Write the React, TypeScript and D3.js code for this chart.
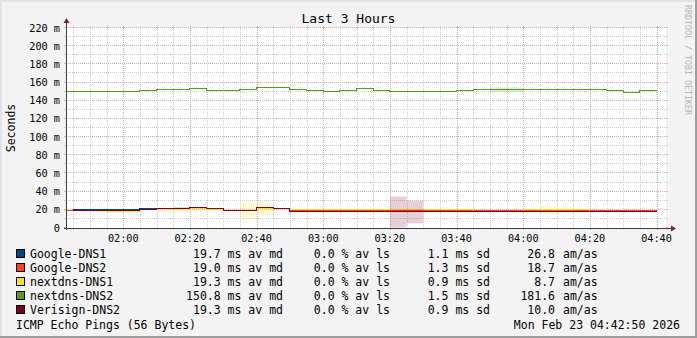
import React from 'react';
import * as d3 from 'd3';

// ---------- data ----------
const chartTitle = 'Last 3 Hours';
const yAxisTitle = 'Seconds';
const watermark = 'RRDTOOL / TOBI OETIKER';
const commentText = 'ICMP Echo Pings (56 Bytes)';
const dateText = 'Mon Feb 23 04:42:50 2026';

const seriesNames = ['Google-DNS1', 'Google-DNS2', 'nextdns-DNS1', 'nextdns-DNS2', 'Verisign-DNS2'];
const seriesColors = ['#004586', '#ff420e', '#ffde20', '#579d1c', '#7e0021'];

// bin end times (5-minute steps), first bin is clipped at the graph start
const binEnds = [
  '01:45', '01:50', '01:55', '02:00', '02:05', '02:10', '02:15', '02:20', '02:25', '02:30', '02:35', '02:40',
  '02:45', '02:50', '02:55', '03:00', '03:05', '03:10', '03:15', '03:20', '03:25', '03:30', '03:35', '03:40',
  '03:45', '03:50', '03:55', '04:00', '04:05', '04:10', '04:15', '04:20', '04:25', '04:30', '04:35', '04:40',
];

// medians in ms
const googleDns1 = [NaN, 19.8, 19.8, 19.8, 19.8, 20.9, 20.4, 21.3, 22.0, 20.4, 18.6, 19.1, 21.2, 20.4,
  18.7, 18.7, 18.7, 18.7, 18.7, 18.7, 18.7, 18.7, 18.7, 18.7, 18.7, 18.7, 18.7, 18.7, 18.7, 18.7, 18.7, 18.7, 18.7, 18.7, 18.7, 18.7];
const googleDns2 = [19.1, 18.7, 18.7, 18.7, 18.7, 19.8, 20.4, 20.4, 21.3, 19.8, 18.7, 18.7, 21.3, 20.4,
  18.7, 18.7, 18.7, 18.7, 18.7, 18.7, 18.7, 18.7, 18.7, 18.7, 18.7, 18.7, 18.7, 18.7, 18.7, 18.7, 18.7, 18.7, 18.7, 18.7, 18.7, 18.7];
const nextdnsDns1 = [NaN, 18.7, 18.7, 17.6, 17.6, 19.8, 20.4, 19.8, 21.3, 19.4, 18.2, 18.7, 21.0, 20.4,
  19.8, 19.8, 19.8, 19.8, 19.8, 19.8, 19.8, 19.8, 19.8, 19.8, 19.8, 17.6, 17.6, 17.6, 19.8, 19.8, 19.8, 19.8, 17.6, 17.6, 17.6, 17.6];
const nextdnsDns2 = [149.3, 149.3, 149.3, 149.3, 149.3, 150.3, 151.4, 151.4, 152.5, 150.3, 150.3, 152.1, 153.6, 153.6,
  152.1, 150.3, 149.3, 150.3, 152.5, 150.3, 149.3, 149.3, 149.3, 149.3, 150.3, 152.1, 152.1, 152.1, 152.1, 152.1,
  152.1, 152.1, 152.1, 150.3, 148.2, 150.3];
const verisignDns2 = [NaN, 18.7, 18.7, 18.7, 18.7, 19.8, 20.9, 20.9, 22.0, 20.9, 18.2, 19.1, 22.0, 20.9,
  17.6, 17.6, 17.6, 17.6, 17.6, 17.6, 17.6, 17.6, 17.6, 17.6, 17.6, 17.6, 17.6, 17.6, 17.6, 17.6, 17.6, 17.6, 17.6, 17.6, 17.6, 17.6];

// standard deviation (ms) shown as the smoke band around each median
const googleDns1Sd = [0, 0, 0, 0, 0, 0, 0, 3.5, 0, 0, 0, 0, 0, 0, 0, 0, 0, 0, 0, 0, 0, 0, 0, 0, 0, 0, 0, 0, 0, 0, 0, 0, 0, 0, 0, 0];
const googleDns2Sd = [0, 0, 0, 0, 0, 0, 0, 0, 0, 0, 0, 0, 0, 0, 0, 0, 0, 0, 0, 0, 0, 0, 0, 0, 0, 0, 0, 0, 0, 0, 0, 0, 0, 0, 0, 0];
const nextdnsDns1Sd = [0, 0, 0, 0, 0, 0, 3, 0, 0, 0, 0, 18.5, 13.5, 0, 0, 0, 0, 0, 0, 0, 0, 0, 0, 0, 0, 0, 0, 0, 0, 8.5, 6, 0, 0, 0, 0, 0];
const nextdnsDns2Sd = [0, 0, 0, 0, 0, 0, 0, 0, 0, 0, 0, 0, 0, 0, 0, 0, 0, 0, 0, 0, 0, 0, 0, 0, 0, 0, 5, 5, 0, 0, 0, 0, 0, 0, 0, 0];
const verisignDns2Sd = [0, 0, 0, 0, 0, 0, 0, 0, 0, 0, 0, 0, 0, 0, 0, 0, 0, 0, 0, 0, 34, 25, 0, 0, 0, 0, 0, 0, 0, 0, 0, 0, 0, 0, 0, 0];

const legendMedian = ['19.7', '19.0', '19.3', '150.8', '19.3'];
const legendLoss = ['0.0', '0.0', '0.0', '0.0', '0.0'];
const legendSd = ['1.1', '1.3', '0.9', '1.5', '0.9'];
const legendAmAs = ['26.8', '18.7', '8.7', '181.6', '10.0'];

const xTickLabels = ['02:00', '02:20', '02:40', '03:00', '03:20', '03:40', '04:00', '04:20', '04:40'];
const yTickValues = [0, 20, 40, 60, 80, 100, 120, 140, 160, 180, 200, 220];
const yTickLabels = ['0', '20 m', '40 m', '60 m', '80 m', '100 m', '120 m', '140 m', '160 m', '180 m', '200 m', '220 m'];

const startTime = '01:42:50';
const endTime = '04:42:50';

// ---------- layout ----------
const W = 697;
const H = 338;
const X0 = 66;
const X1 = 666;
const Y0 = 228;
const Y1 = 28;
const MONO = '"DejaVu Sans Mono", monospace';

const parseT = (s: string) => {
  const p = s.split(':').map(Number);
  return new Date(2026, 1, 23, p[0], p[1], p[2] || 0);
};

const medians = [googleDns1, googleDns2, nextdnsDns1, nextdnsDns2, verisignDns2];
const sds = [googleDns1Sd, googleDns2Sd, nextdnsDns1Sd, nextdnsDns2Sd, verisignDns2Sd];

export default function App() {
  const tStart = parseT(startTime);
  const tEnd = parseT(endTime);
  const x = d3.scaleTime().domain([tStart, tEnd]).range([X0, X1]);
  const yLin = d3.scaleLinear().domain([0, 220]).range([Y0, Y1]);
  const yGrid = (v: number) => Math.round(yLin(v)) - 0.5;

  const ends = binEnds.map(parseT);
  const bins = ends.map((e) => {
    const s = d3.timeMinute.offset(e, -5);
    return { x0: x(s < tStart ? tStart : s), x1: x(e) };
  });

  const minorX = d3.timeMinute.every(5)!.range(tStart, tEnd);
  const minorY = d3.range(0, 221, 10);

  const line = d3
    .line<{ x: number; v: number }>()
    .defined((d) => !isNaN(d.v))
    .x((d) => d.x)
    .y((d) => yGrid(d.v));

  const gridMinor = '#cdcdcd';
  const gridMajor = '#eba6a6';

  return (
    <svg
      width={W}
      height={H}
      style={{ position: 'absolute', left: 0, top: 0, display: 'block' }}
      fontFamily={MONO}
    >
      <rect x={0} y={0} width={W} height={H} fill="#f3f3f3" />
      <rect x={0} y={0} width={W} height={2} fill="#e2e2e2" />
      <rect x={0} y={0} width={2} height={H} fill="#e2e2e2" />
      <rect x={0} y={H - 2} width={W} height={2} fill="#9e9e9e" />
      <rect x={W - 2} y={0} width={2} height={H} fill="#9e9e9e" />

      <rect x={X0} y={Y1} width={X1 - X0} height={Y0 - Y1} fill="#ffffff" />

      {/* grid */}
      <g shapeRendering="crispEdges">
        {minorY.map((v) => {
          const major = v % 20 === 0;
          const yy = yGrid(v);
          const c = major ? gridMajor : gridMinor;
          return (
            <g key={'gy' + v}>
              {v > 0 && <line x1={X0} x2={X1} y1={yy} y2={yy} stroke={c} strokeDasharray="1,1" />}
              <line x1={X0 - 2} x2={X0} y1={yy} y2={yy} stroke={c} />
              <line x1={X1} x2={X1 + 2} y1={yy} y2={yy} stroke={c} />
            </g>
          );
        })}
        {minorX.map((t) => {
          const major = t.getMinutes() % 20 === 0;
          const xx = Math.round(x(t)) + 0.5;
          const c = major ? gridMajor : gridMinor;
          return (
            <g key={'gx' + t.getTime()}>
              <line x1={xx} x2={xx} y1={Y1} y2={Y0} stroke={c} strokeDasharray="1,1" />
              <line x1={xx} x2={xx} y1={Y1 - 2} y2={Y1} stroke={c} />
              <line x1={xx} x2={xx} y1={Y0} y2={Y0 + 2} stroke={c} />
            </g>
          );
        })}
      </g>

      {/* series: smoke band then median line */}
      {medians.map((vals, si) => {
        const pts = bins.flatMap((b, i) => [
          { x: b.x0, v: vals[i] },
          { x: b.x1, v: vals[i] },
        ]);
        return (
          <g key={'s' + si}>
            {bins.map((b, i) =>
              sds[si][i] > 0 && !isNaN(vals[i]) ? (
                <rect
                  key={'b' + i}
                  x={b.x0}
                  width={b.x1 - b.x0}
                  y={yLin(vals[i] + sds[si][i] / 2)}
                  height={yLin(vals[i] - sds[si][i] / 2) - yLin(vals[i] + sds[si][i] / 2)}
                  fill={seriesColors[si]}
                  fillOpacity={0.19}
                />
              ) : null
            )}
            <path d={line(pts) || ''} fill="none" stroke={seriesColors[si]} strokeWidth={1} shapeRendering="crispEdges" />
          </g>
        );
      })}

      {/* axes */}
      <g shapeRendering="crispEdges" stroke="#3c3c3c">
        <line x1={X0 - 2} x2={X1 + 6} y1={Y0 + 0.5} y2={Y0 + 0.5} />
        <line x1={X0 + 0.5} x2={X0 + 0.5} y1={Y0 + 2} y2={Y1 - 6} />
      </g>
      <path d={`M${X1 + 10},${Y0 + 0.5} L${X1 + 5},${Y0 - 2.5} L${X1 + 5},${Y0 + 3.5} Z`} fill="#7f1f1f" />
      <path d={`M${X0 + 0.5},${Y1 - 10} L${X0 - 2.5},${Y1 - 5} L${X0 + 3.5},${Y1 - 5} Z`} fill="#7f1f1f" />

      {/* axis labels */}
      <g fontSize={10.2} fill="#000">
        {yTickValues.map((v, i) => (
          <text key={'yl' + v} x={X0 - 6} y={yLin(v) + 3.5} textAnchor="end" xmlSpace="preserve">
            {yTickLabels[i]}
          </text>
        ))}
        {xTickLabels.map((l) => {
          const t = parseT(l);
          return (
            <text key={'xl' + l} x={x(t)} y={Y0 + 13.5} textAnchor="middle">
              {l}
            </text>
          );
        })}
      </g>

      <text x={W / 2} y={23} textAnchor="middle" fontSize={13}>
        {chartTitle}
      </text>
      <text transform={`translate(15,${(Y0 + Y1) / 2}) rotate(-90)`} textAnchor="middle" fontSize={11.5}>
        {yAxisTitle}
      </text>
      <text transform={`translate(685,5) rotate(90)`} textAnchor="start" fontSize={8.3} fill="#b4b4b4">
        {watermark}
      </text>

      {/* legend */}
      <g fontSize={11.5} fill="#000">
        {seriesNames.map((n, i) => {
          const cy = 254 + i * 14;
          const by = cy + 4;
          return (
            <g key={'lg' + n}>
              <rect x={16.5} y={cy - 4.5} width={8} height={8} fill={seriesColors[i]} stroke="#000" strokeWidth={1} />
              <text x={30} y={by}>{n}</text>
              <text x={283} y={by} textAnchor="end">{`${legendMedian[i]} ms av md`}</text>
              <text x={390} y={by} textAnchor="end">{`${legendLoss[i]} % av ls`}</text>
              <text x={490} y={by} textAnchor="end">{`${legendSd[i]} ms sd`}</text>
              <text x={555} y={by} textAnchor="end">{legendAmAs[i]}</text>
              <text x={563} y={by}>am/as</text>
            </g>
          );
        })}
        <text x={16} y={329}>{commentText}</text>
        <text x={680} y={329} textAnchor="end">{dateText}</text>
      </g>
    </svg>
  );
}
